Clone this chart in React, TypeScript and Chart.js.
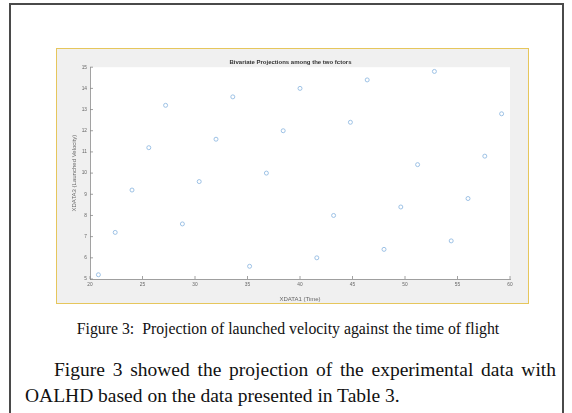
import React, { useEffect, useRef } from "react";
import { Chart, registerables } from "chart.js";

Chart.register(...registerables);

const timeOfFlight = [20.8, 22.4, 24.0, 25.6, 27.2, 28.8, 30.4, 32.0, 33.6, 35.2, 36.8, 38.4, 40.0, 41.6, 43.2, 44.8, 46.4, 48.0, 49.6, 51.2, 52.8, 54.4, 56.0, 57.6, 59.2];
const launchedVelocity = [5.2, 7.2, 9.2, 11.2, 13.2, 7.6, 9.6, 11.6, 13.6, 5.6, 10.0, 12.0, 14.0, 6.0, 8.0, 12.4, 14.4, 6.4, 8.4, 10.4, 14.8, 6.8, 8.8, 10.8, 12.8];
const xTicks = [20, 25, 30, 35, 40, 45, 50, 55, 60];
const yTicks = [5, 6, 7, 8, 9, 10, 11, 12, 13, 14, 15];

const chartTitle = "Bivariate Projections among the two fctors";
const xTitle = "XDATA1 (Time)";
const yTitle = "XDATA3 (Launched Velocity)";

const plotBg = {
  id: "plotBg",
  beforeDraw(chart: any) {
    const { ctx, chartArea } = chart;
    ctx.save();
    ctx.fillStyle = "#ffffff";
    ctx.fillRect(chartArea.left, chartArea.top, chartArea.right - chartArea.left, chartArea.bottom - chartArea.top);
    ctx.restore();
  },
};

const inwardTicks = {
  id: "inwardTicks",
  afterDraw(chart: any) {
    const { ctx, chartArea } = chart;
    const xs = chart.scales.x;
    const ys = chart.scales.y;
    ctx.save();
    ctx.strokeStyle = "#8a8a8a";
    ctx.lineWidth = 0.8;
    ctx.beginPath();
    xTicks.forEach((v) => {
      const px = xs.getPixelForValue(v);
      ctx.moveTo(px, chartArea.bottom);
      ctx.lineTo(px, chartArea.bottom - 3);
    });
    yTicks.forEach((v) => {
      const py = ys.getPixelForValue(v);
      ctx.moveTo(chartArea.left, py);
      ctx.lineTo(chartArea.left + 3, py);
    });
    ctx.stroke();
    ctx.restore();
  },
};

function ScatterChart() {
  const ref = useRef<HTMLCanvasElement | null>(null);
  useEffect(() => {
    if (!ref.current) return;
    const chart = new Chart(ref.current, {
      type: "scatter",
      data: {
        datasets: [
          {
            data: timeOfFlight.map((x, i) => ({ x, y: launchedVelocity[i] })),
            pointStyle: "circle",
            pointRadius: 2,
            pointBorderWidth: 0.9,
            pointBorderColor: "#93bbe2",
            pointBackgroundColor: "rgba(0,0,0,0)",
          },
        ],
      },
      options: {
        animation: false,
        responsive: false,
        maintainAspectRatio: false,
        layout: { padding: { left: 14, right: 18, top: 0, bottom: 0 } },
        plugins: {
          legend: { display: false },
          tooltip: { enabled: false },
          title: {
            display: true,
            text: chartTitle,
            color: "#333",
            font: { family: "'Liberation Sans', Arial, sans-serif", size: 6, weight: "bold" },
            padding: { top: 10, bottom: 1 },
          },
        },
        scales: {
          x: {
            type: "linear",
            min: 20,
            max: 60,
            afterFit(scale: any) {
              scale.height = 24;
            },
            afterBuildTicks(scale: any) {
              scale.ticks = xTicks.map((v) => ({ value: v }));
            },
            grid: { display: false, drawTicks: false },
            border: { display: true, color: "#8a8a8a", width: 0.8 },
            ticks: {
              color: "#666",
              padding: 3,
              font: { family: "'Liberation Sans', Arial, sans-serif", size: 4.8 },
            },
            title: {
              display: true,
              text: xTitle,
              color: "#666",
              padding: { top: 0, bottom: 0 },
              font: { family: "'Liberation Sans', Arial, sans-serif", size: 6 },
            },
          },
          y: {
            type: "linear",
            min: 5,
            max: 15,
            afterFit(scale: any) {
              scale.width = 19;
            },
            afterBuildTicks(scale: any) {
              scale.ticks = yTicks.map((v) => ({ value: v }));
            },
            grid: { display: false, drawTicks: false },
            border: { display: true, color: "#8a8a8a", width: 0.8 },
            ticks: {
              color: "#666",
              padding: 3,
              font: { family: "'Liberation Sans', Arial, sans-serif", size: 4.8 },
            },
            title: {
              display: true,
              text: yTitle,
              color: "#666",
              padding: { top: 0, bottom: 2 },
              font: { family: "'Liberation Sans', Arial, sans-serif", size: 6 },
            },
          },
        },
      },
      plugins: [plotBg, inwardTicks],
    } as any);
    return () => chart.destroy();
  }, []);
  return <canvas ref={ref} width={471} height={254} style={{ display: "block", width: 471, height: 254 }} />;
}

export default function App() {
  return (
    <div
      style={{
        position: "fixed",
        left: 0,
        top: 0,
        width: 572,
        height: 413,
        background: "#ffffff",
        overflow: "hidden",
        fontFamily: "'Liberation Serif', 'Times New Roman', serif",
      }}
    >
      <div
        style={{
          position: "absolute",
          left: 9,
          top: 3,
          width: 551,
          height: 430,
          border: "2px solid #4a4a4a",
        }}
      />
      <div
        style={{
          position: "absolute",
          left: 56,
          top: 48,
          width: 471,
          height: 254,
          border: "1.5px solid #e6c65c",
          background: "#f0f0f0",
        }}
      >
        <ScatterChart />
      </div>
      <div
        style={{
          position: "absolute",
          left: 0,
          width: 576,
          top: 319,
          textAlign: "center",
          fontSize: 15.8,
          lineHeight: "20px",
          color: "#111",
        }}
      >
        Figure 3:&nbsp; Projection of launched velocity against the time of flight
      </div>
      <div
        style={{
          position: "absolute",
          left: 25,
          width: 531,
          top: 357,
          fontSize: 19.5,
          lineHeight: "26px",
          color: "#111",
        }}
      >
        <div style={{ textAlign: "justify", textAlignLast: "justify", paddingLeft: 29 }}>
          Figure 3 showed the projection of the experimental data with
        </div>
        <div>OALHD based on the data presented in Table 3.</div>
      </div>
    </div>
  );
}
